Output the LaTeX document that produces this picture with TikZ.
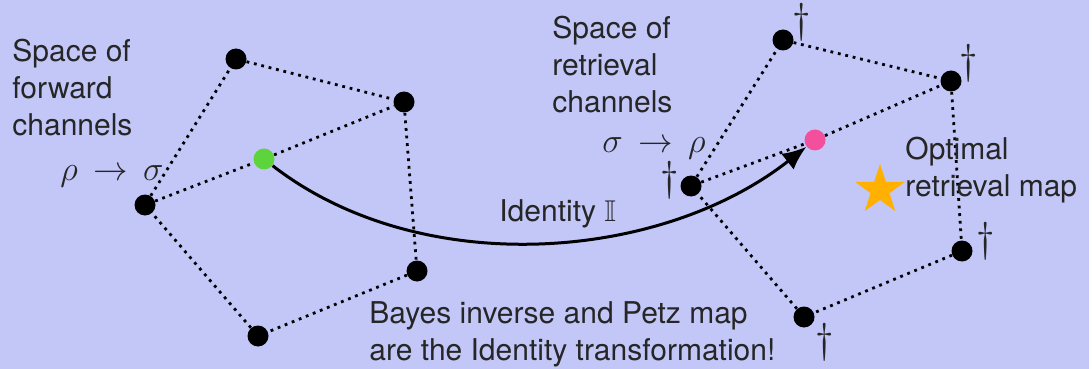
\documentclass[tikz,border=0pt]{standalone}
\usepackage{fontspec}
\setmainfont{TeX Gyre Heros}
\usepackage{amssymb}
\usetikzlibrary{arrows.meta,shapes.geometric}

\definecolor{bgblue}{HTML}{C2C7F8}
\definecolor{txtgray}{HTML}{262626}
\definecolor{fwdgreen}{HTML}{5ED43C}
\definecolor{retpink}{HTML}{F2509C}
\definecolor{staryellow}{HTML}{FFB000}

\begin{document}
\begin{tikzpicture}[x=0.5pt, y=-0.5pt,
  dot/.style={circle,fill=black,inner sep=0pt,minimum size=10.5pt},
  dag/.style={inner sep=0pt,text=txtgray,font=\fontsize{20}{24}\selectfont},
  label/.style={inner sep=0pt,anchor=north west,align=left,text=txtgray,font=\fontsize{15}{18.5}\selectfont},
  maps/.style={inner sep=0pt,text=txtgray,font=\fontsize{18}{22}\selectfont},
  link/.style={line width=1.4pt,dash pattern=on 1.4pt off 2.4pt}]
  % background
  \useasboundingbox (0,0) rectangle (1092,369);
  \fill[bgblue] (0,0) rectangle (1089,369);

  % forward channels
  \node (f1) [dot] at (236,59) {};
  \node (f2) [dot] at (404,102) {};
  \node (f3) [dot] at (417,271) {};
  \node (f4) [dot] at (258,336) {};
  \node (f5) [dot] at (145,205) {};
  \node (fmid) [dot,fill=fwdgreen] at (264,159) {};
  \draw[link] (f1) -- (f2) -- (f3) -- (f4) -- (f5) -- (f1);
  \draw[link] (f5) -- (fmid) -- (f2);

  % retrieval channels
  \node (r1) [dot] at (783,40) {};
  \node (r2) [dot] at (951,81) {};
  \node (r3) [dot] at (962,251) {};
  \node (r4) [dot] at (804,317) {};
  \node (r5) [dot] at (691,186) {};
  \node (rmid) [dot,fill=retpink] at (815,140) {};
  \draw[link] (r1) -- (r2) -- (r3) -- (r4) -- (r5) -- (r1);
  \draw[link] (r5) -- (rmid) -- (r2);
  \node (d1) [dag] at (802,22) {$\dagger$};
  \node (d2) [dag] at (969,63) {$\dagger$};
  \node (d3) [dag] at (986,241) {$\dagger$};
  \node (d4) [dag] at (825,342) {$\dagger$};
  \node (d5) [dag] at (670,180) {$\dagger$};

  % optimal map
  \node (best) [star,star points=5,star point ratio=2.6,fill=staryellow,inner sep=0pt,minimum size=26pt] at (880,190) {};

  % texts
  \node (fwdtxt) [label] at (12,39) {Space of\\forward\\channels};
  \node (rettxt) [label] at (552,16) {Space of\\retrieval\\channels};
  \node (opttxt) [label] at (905,137) {Optimal\\retrieval map};
  \node (bayes) [label] at (369,301) {Bayes inverse and Petz map\\are the Identity transformation!};
  \node (idtxt) [label] at (499,199) {Identity $\mathbb{I}$};
  \node (fwdmap) [maps] at (112,176) {$\rho\,\rightarrow\,\sigma$};
  \node (retmap) [maps] at (654,148) {$\sigma\,\rightarrow\,\rho$};

  % identity
  \draw[line width=1.5pt,-{Latex[length=12pt,width=10pt]}] (fmid) .. controls (420,280) and (660,262) .. (rmid);
\end{tikzpicture}
\end{document}
